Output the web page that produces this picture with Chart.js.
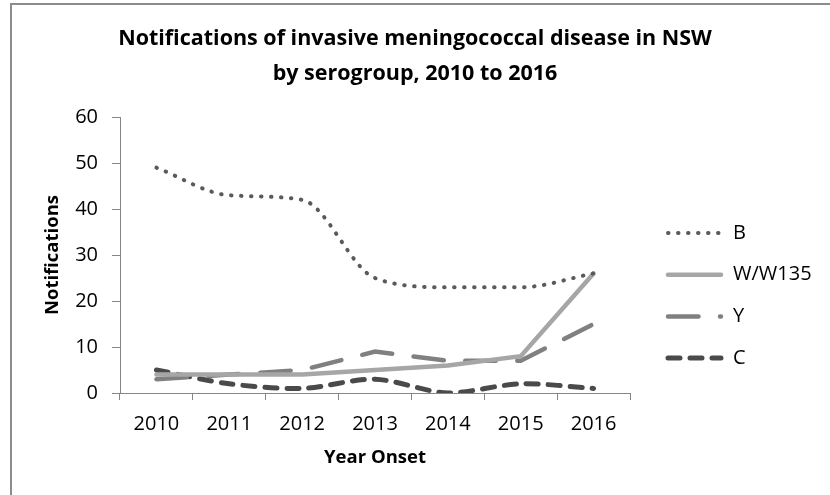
<!DOCTYPE html>
<html>
<head>
<meta charset="utf-8">
<script src="https://cdn.jsdelivr.net/npm/chart.js@4.4.0/dist/chart.umd.min.js"></script>
<style>
    html, body { margin: 0; padding: 0; background: #fff; overflow: hidden; }
    #wrap { position: relative; width: 830px; height: 495px; }
    #frame { position: absolute; left: 10px; top: 3px; width: 840px; height: 510px;
             border-left: 2px solid #8c8c8c; border-top: 2px solid #8c8c8c; pointer-events: none; }
</style>
</head>
<body>
<div id="wrap">
    <canvas id="chart" width="830" height="495"></canvas>
    <div id="frame"></div>
</div>
<script>
const years = ['2010', '2011', '2012', '2013', '2014', '2015', '2016'];
const serogroupB = [49, 43, 42, 25, 23, 23, 26];
const serogroupW = [4, 4, 4, 5, 6, 8, 26];
const serogroupY = [3, 4, 5, 9, 7, 7, 15];
const serogroupC = [5, 2, 1, 3, 0, 2, 1];
const seriesNames = ['B', 'W/W135', 'Y', 'C'];
const yMin = 0, yMax = 60, yStep = 10;

const FONT = '"Open Sans", "DejaVu Sans", sans-serif';
const AXIS_GREY = '#868686';

// legend drawn at the right, like the Excel one
const sideLegend = {
    id: 'sideLegend',
    afterDraw(chart) {
        const ctx = chart.ctx;
        const x0 = 668, x1 = 721, textX = 733;
        const top = 233, gap = 41.7;
        chart.data.datasets.forEach((ds, i) => {
            const y = top + i * gap;
            ctx.save();
            ctx.strokeStyle = ds.borderColor;
            ctx.lineWidth = ds.borderWidth;
            ctx.lineCap = ds.borderCapStyle || 'butt';
            ctx.setLineDash(ds.borderDash || []);
            ctx.beginPath();
            ctx.moveTo(x0, y);
            ctx.lineTo(x1, y);
            ctx.stroke();
            ctx.setLineDash([]);
            ctx.fillStyle = '#000';
            ctx.font = '20px ' + FONT;
            ctx.textBaseline = 'middle';
            ctx.textAlign = 'left';
            ctx.fillText(ds.label, textX, y);
            ctx.restore();
        });
    }
};

new Chart(document.getElementById('chart'), {
    type: 'line',
    data: {
        labels: years,
        datasets: [
            { label: seriesNames[0], data: serogroupB, borderColor: '#5a5a5a', borderWidth: 4,
              borderDash: [0.5, 9.5], borderCapStyle: 'round', cubicInterpolationMode: 'monotone' },
            { label: seriesNames[1], data: serogroupW, borderColor: '#a6a6a6', borderWidth: 4.5,
              borderCapStyle: 'round', tension: 0 },
            { label: seriesNames[2], data: serogroupY, borderColor: '#808080', borderWidth: 4.5,
              borderDash: [30.5, 21.5], borderCapStyle: 'round', tension: 0 },
            { label: seriesNames[3], data: serogroupC, borderColor: '#4a4a4a', borderWidth: 5,
              borderDash: [12, 10], borderCapStyle: 'round', tension: 0.3 }
        ]
    },
    options: {
        responsive: false,
        animation: false,
        devicePixelRatio: 1,
        layout: { padding: 0 },
        elements: { point: { radius: 0, hoverRadius: 0 } },
        plugins: {
            legend: { display: false },
            tooltip: { enabled: false },
            title: {
                display: true,
                text: ['Notifications of invasive meningococcal disease in NSW', 'by serogroup, 2010 to 2016'],
                color: '#000',
                font: { family: FONT, size: 21.5, weight: 'bold', lineHeight: 1.63 },
                padding: { top: 21.5, bottom: 25.5 }
            }
        },
        scales: {
            x: {
                type: 'category',
                offset: true,
                grid: { offset: true, drawOnChartArea: false, tickLength: 7, color: AXIS_GREY },
                border: { color: AXIS_GREY },
                ticks: { color: '#000', font: { family: FONT, size: 20 }, padding: 12, maxRotation: 0, autoSkip: false },
                title: { display: true, text: 'Year Onset', color: '#000',
                         font: { family: FONT, size: 18.5, weight: 'bold' }, padding: { bottom: 26 } },
                afterFit(s) { s.height = 102; }
            },
            y: {
                min: yMin,
                max: yMax,
                grid: { drawOnChartArea: false, tickLength: 8, color: AXIS_GREY },
                border: { color: AXIS_GREY },
                ticks: { stepSize: yStep, color: '#000', font: { family: FONT, size: 20 }, padding: 14 },
                title: { display: true, text: 'Notifications', color: '#000',
                         font: { family: FONT, size: 18.5, weight: 'bold' }, padding: { top: 42 } },
                afterFit(s) { s.width = 120; }
            },
            yRight: {
                type: 'linear',
                position: 'right',
                grid: { display: false },
                border: { display: false },
                ticks: { display: false },
                afterFit(s) { s.width = 200; }
            }
        }
    },
    plugins: [sideLegend]
});
</script>
</body>
</html>
